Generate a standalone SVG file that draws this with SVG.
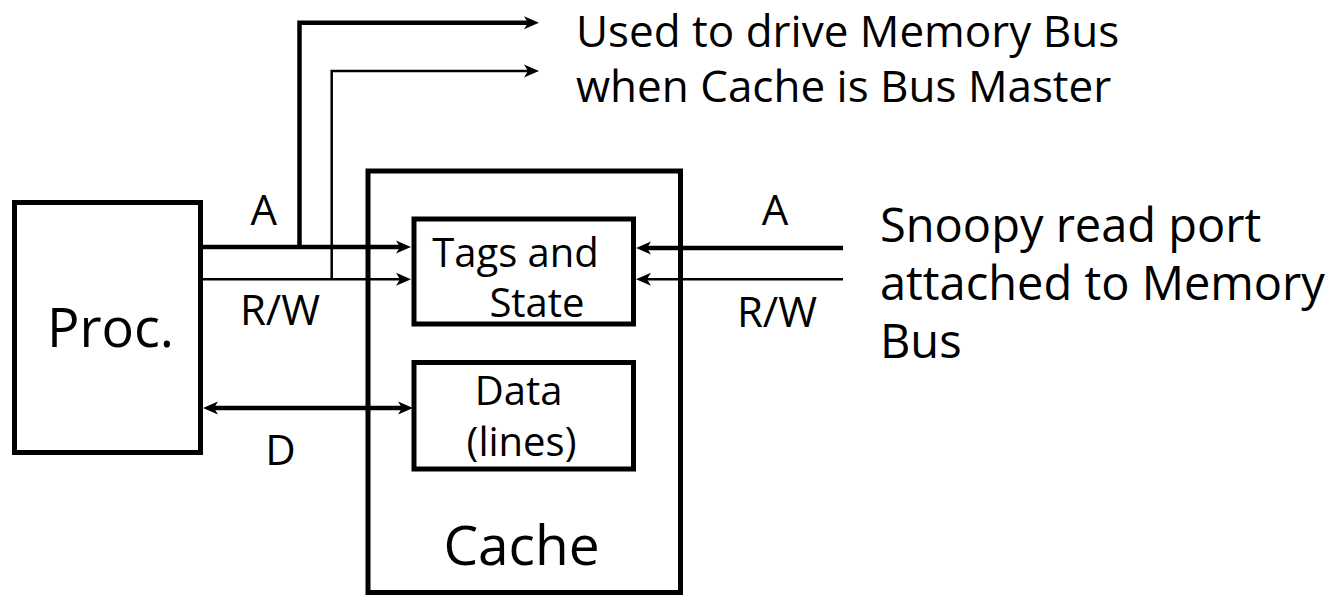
<svg xmlns="http://www.w3.org/2000/svg" width="1327" height="596" viewBox="0 0 1327 596">
<style>
.box{fill:#fff;stroke:#000;stroke-width:5}
.t{font-family:"Open Sans","Noto Sans",sans-serif;fill:#000}
.thick{fill:none;stroke:#000;stroke-width:4.5;marker-end:url(#ah)}
.thin{fill:none;stroke:#000;stroke-width:2.5;marker-end:url(#ah)}
</style>
<defs>
<marker id="ah" viewBox="0 0 15 15" refX="6" refY="7.5" markerWidth="15" markerHeight="15" markerUnits="userSpaceOnUse" orient="auto-start-reverse">
<path d="M0,1 L15,7.5 L0,14 L4,7.5 Z" fill="#000"/>
</marker>
</defs>
<rect width="1327" height="596" fill="#fff"/>
<g id="proc">
<rect class="box" x="14.5" y="202.5" width="186" height="250"/>
<text class="t" x="110.5" y="347" font-size="54" text-anchor="middle">Proc.</text>
</g>
<g id="cache">
<rect class="box" x="368" y="171" width="312.5" height="421.5"/>
<text class="t" x="521.5" y="565" font-size="55" text-anchor="middle">Cache</text>
</g>
<g id="tags">
<rect class="box" x="414" y="219" width="219.5" height="105"/>
<text class="t" x="515.5" y="267" font-size="40" text-anchor="middle">Tags and</text>
<text class="t" x="537" y="317" font-size="40" text-anchor="middle">State</text>
</g>
<g id="data">
<rect class="box" x="414" y="362.5" width="219.5" height="106.5"/>
<text class="t" x="518.5" y="405" font-size="40" text-anchor="middle">Data</text>
<text class="t" x="521.5" y="456" font-size="40" text-anchor="middle">(lines)</text>
</g>
<g id="connectors">
<path class="thick" d="M203,247 L402,247"/>
<path class="thin" d="M203,279.3 L402,279.3"/>
<path class="thick" d="M299.5,247 V22.7 H530"/>
<path class="thin" d="M331.7,279.3 V71 H530"/>
<path class="thick" d="M843,248 L645,248"/>
<path class="thin" d="M843,279.3 L645,279.3"/>
<path class="thick" d="M212,408 L404,408" marker-start="url(#ah)"/>
</g>
<g id="labels">
<text class="t" x="263.7" y="225" font-size="42" text-anchor="middle">A</text>
<text class="t" x="280" y="325" font-size="42" text-anchor="middle">R/W</text>
<text class="t" x="775" y="225" font-size="42" text-anchor="middle">A</text>
<text class="t" x="777" y="326.7" font-size="42" text-anchor="middle">R/W</text>
<text class="t" x="280.5" y="465" font-size="42" text-anchor="middle">D</text>
</g>
<g id="note-top">
<text class="t" x="576" y="47" font-size="44">Used to drive Memory Bus</text>
<text class="t" x="576" y="102" font-size="44">when Cache is Bus Master</text>
</g>
<g id="note-right">
<text class="t" x="880" y="242" font-size="47">Snoopy read port</text>
<text class="t" x="880" y="300" font-size="47">attached to Memory</text>
<text class="t" x="880" y="358" font-size="47">Bus</text>
</g>
</svg>
